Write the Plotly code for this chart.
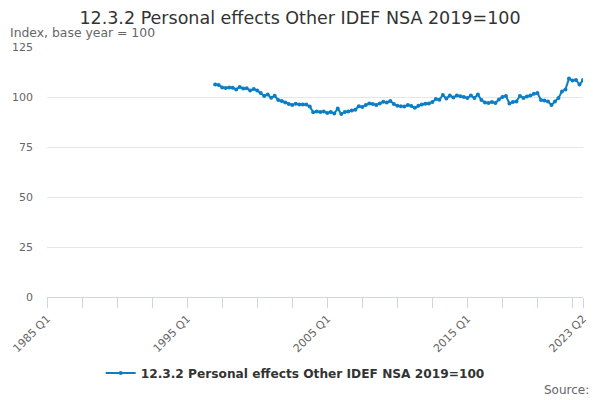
import plotly.graph_objects as go

# Quarter categories 1985 Q1 .. 2023 Q2
years = list(range(1985, 2024))
categories = [f"{y} Q{q}" for y in years for q in range(1, 5)]
categories = categories[:categories.index("2023 Q2") + 1]

series_name = "12.3.2 Personal effects Other IDEF NSA 2019=100"
series_start = "1997 Q1"
values = [
    106.2, 106.0, 104.8, 104.5, 104.8, 104.6, 103.8, 105.0, 104.3, 104.4,
    103.2, 104.0, 103.3, 102.0, 100.5, 101.2, 99.6, 100.6, 98.5, 98.0,
    97.2, 96.5, 96.0, 96.6, 96.2, 96.3, 96.2, 95.2, 92.4, 92.7,
    92.5, 92.7, 92.0, 92.5, 91.8, 94.2, 91.5, 92.5, 92.7, 93.2,
    93.6, 95.4, 95.0, 96.0, 96.8, 96.5, 96.0, 96.8, 97.6, 97.2,
    98.0, 96.5, 95.6, 95.4, 95.3, 96.0, 95.5, 94.6, 95.6, 96.3,
    96.6, 96.7, 97.5, 99.0, 98.6, 101.0, 99.3, 100.7, 99.8, 100.8,
    100.4, 100.0, 99.5, 100.8, 99.5, 101.2, 98.5, 97.2, 97.0, 97.5,
    97.0, 98.8, 100.0, 100.5, 96.8, 97.5, 97.8, 100.5, 99.5, 100.3,
    100.8, 101.6, 102.0, 98.5, 98.2, 97.8, 96.0, 97.8, 99.5, 102.8,
    103.8, 109.2, 108.2, 108.5, 106.2, 108.5,
]
start = categories.index(series_start)
x_vals = categories[start:start + len(values)]

tick_cats = categories[::10] + [categories[-1]]
labelled = {"1985 Q1", "1995 Q1", "2005 Q1", "2015 Q1", "2023 Q2"}
tick_text = [c if c in labelled else "" for c in tick_cats]

y_ticks = [0, 25, 50, 75, 100, 125]

FONT = "DejaVu Sans, sans-serif"
BLUE = "#0a7fc6"

fig = go.Figure()
fig.add_trace(go.Scatter(
    x=x_vals, y=values, mode="lines+markers", name=series_name,
    line=dict(color=BLUE, width=2),
    marker=dict(color=BLUE, size=4, symbol="circle"),
))

fig.update_layout(
    width=600, height=400,
    margin=dict(l=39, r=25, t=39, b=111, autoexpand=False),
    plot_bgcolor="white", paper_bgcolor="white",
    font=dict(family=FONT, color="#666666", size=11),
    title=dict(text=series_name, x=292 / 600, xanchor="center", xref="container",
               y=1 - 9.5 / 400, yanchor="middle", yref="container",
               font=dict(family=FONT, size=17.5, color="#333333")),
    showlegend=True,
    legend=dict(orientation="h", x=0.463, xanchor="center", y=-0.304,
                yanchor="middle", itemwidth=30,
                font=dict(family=FONT, size=12.2, color="#333333", weight="bold")),
    xaxis=dict(
        type="category", categoryorder="array", categoryarray=categories,
        range=[0, len(categories) - 1],
        tickmode="array", tickvals=tick_cats, ticktext=tick_text,
        tickangle=-45, ticks="outside", ticklen=10, tickcolor="#ccd6eb",
        showline=True, linecolor="#ccd6eb", linewidth=1,
        showgrid=False, zeroline=False, automargin=False,
        tickfont=dict(size=11, color="#666666"),
    ),
    yaxis=dict(
        range=[0, 125], tickmode="array", tickvals=y_ticks,
        showgrid=True, gridcolor="#e6e6e6", gridwidth=1,
        zeroline=False, showline=False, automargin=False,
        tickfont=dict(size=11, color="#666666"), ticklabelstandoff=13,
    ),
    annotations=[
        dict(text="Index, base year = 100", xref="paper", yref="paper",
             x=(8 - 47) / 536, y=(297 - 33) / 250, xanchor="left",
             yanchor="middle", showarrow=False,
             font=dict(family=FONT, size=12.4, color="#666666")),
        dict(text="Source:", xref="paper", yref="paper",
             x=(591 - 47) / 536, y=(297 - 390) / 250, xanchor="right",
             yanchor="middle", showarrow=False,
             font=dict(family=FONT, size=12, color="#666666")),
    ],
)

fig.write_html("out.html")
